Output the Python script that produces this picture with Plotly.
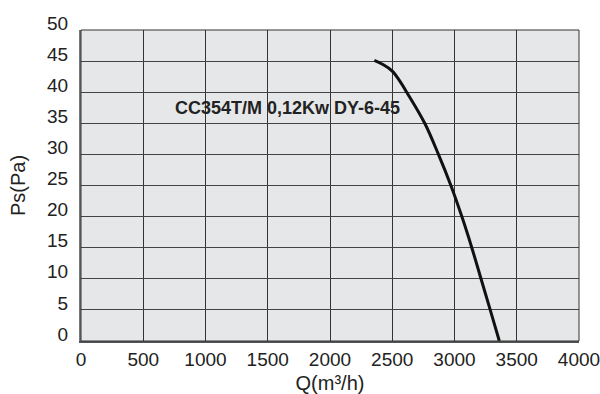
import plotly.graph_objects as go

# Fan curve data
flow_q = [2356, 2429, 2500, 2557, 2616, 2761, 2871, 2971, 3059, 3139, 3213, 3287, 3360]
pressure_ps = [45.1, 44.4, 43.4, 41.9, 40, 35, 30, 25, 20, 15, 10, 5, 0]

x_ticks = [0, 500, 1000, 1500, 2000, 2500, 3000, 3500, 4000]
y_ticks = [0, 5, 10, 15, 20, 25, 30, 35, 40, 45, 50]
label_text = "CC354T/M 0,12Kw DY-6-45"
label_pos = (735, 37.5)

FONT = "Liberation Sans, Arial, Helvetica, sans-serif"

fig = go.Figure()
fig.add_trace(go.Scatter(
    x=flow_q, y=pressure_ps, mode="lines",
    line=dict(color="#111111", width=3, shape="spline", smoothing=1),
    showlegend=False, hoverinfo="x+y",
))

fig.add_annotation(
    x=label_pos[0], y=label_pos[1], xref="x", yref="y",
    text="<b>" + label_text + "</b>", showarrow=False,
    xanchor="left", yanchor="middle",
    font=dict(family=FONT, size=18, color="#222222"),
)

fig.update_layout(
    width=600, height=394,
    margin=dict(l=81, r=21, t=30, b=53, autoexpand=False),
    paper_bgcolor="white",
    plot_bgcolor="#e6e7e8",
    font=dict(family=FONT, size=19, color="#222222"),
    xaxis=dict(
        range=[0, 4000], tickvals=x_ticks,
        ticktext=[str(v) for v in x_ticks],
        showgrid=True, gridcolor="#333333", gridwidth=1,
        zeroline=False, showline=True, linecolor="#555555", linewidth=2,
        ticks="", ticklabelstandoff=0, automargin=False,
        ticklabeloverflow="allow",
        title=dict(text="Q(m³/h)", standoff=8, font=dict(size=20)),
    ),
    yaxis=dict(
        range=[0, 50], tickvals=y_ticks,
        ticktext=[str(v) for v in y_ticks],
        showgrid=True, gridcolor="#444444", gridwidth=1,
        zeroline=False, showline=True, linecolor="#777777", linewidth=2,
        ticks="", ticklabelstandoff=7, ticklabelshift=-7, automargin=False,
        ticklabeloverflow="allow",
        title=dict(text="Ps(Pa)", standoff=16, font=dict(size=20)),
    ),
)
fig.add_shape(type="rect", xref="paper", yref="paper", x0=0, y0=0, x1=1, y1=1,
              line=dict(color="#333333", width=1), layer="above")

fig.write_html("out.html", config={"displayModeBar": False},
               post_script="document.body.style.margin='0';")
